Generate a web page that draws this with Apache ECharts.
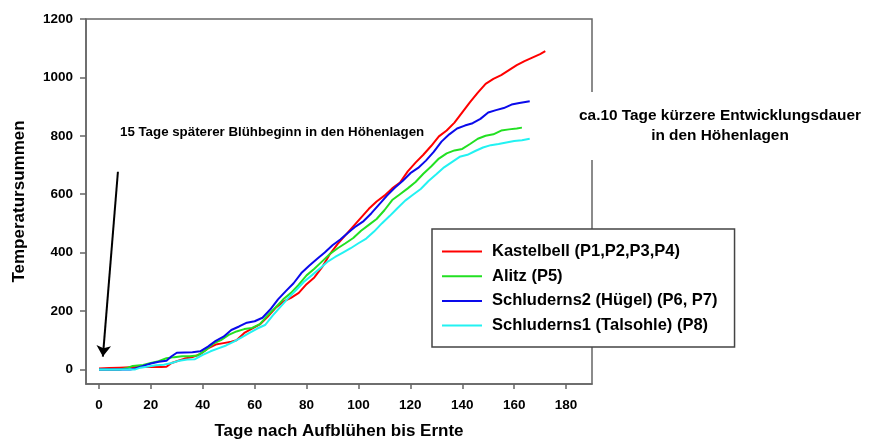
<!DOCTYPE html>
<html>
<head>
<meta charset="utf-8">
<title>Temperatursummen</title>
<script src="https://cdn.jsdelivr.net/npm/echarts@6.0.0/dist/echarts.min.js"></script>
<style>
    body { margin: 0; background: #fff; }
    #lineChart { width: 869px; height: 445px; }
</style>
</head>
<body>
<div id="lineChart"></div>
<script>
// values: days after flowering -> temperature sums
var kastelbellDays = [0,4,8,12,16,20,24,26,28,30,33,36,39,42,45,48,51,53,56,59,62,65,68,71,74,77,80,83,86,89,92,95,98,101,104,107,110,113,116,119,122,125,128,131,134,137,140,143,146,149,152,155,158,161,164,167,170,172];
var kastelbellVals = [3,5,6,7,8,8,8,9,22,28,37,42,52,72,85,90,95,100,125,140,154,180,210,232,245,262,292,315,350,395,430,460,490,520,550,575,595,620,640,678,708,735,765,798,818,845,880,915,948,978,995,1008,1025,1042,1056,1068,1080,1090];

var alitzDays = [0,4,8,11,13,17,20,23,26,29,32,35,38,41,44,47,50,53,56,59,62,65,68,71,74,77,80,83,86,89,92,95,98,101,104,107,110,113,116,119,122,125,128,131,134,137,140,143,146,149,152,155,158,161,163];
var alitzVals = [0,0,0,5,12,15,22,28,38,42,45,45,48,65,88,100,118,130,138,142,155,185,212,240,262,290,322,345,370,395,415,432,450,475,495,515,545,580,600,620,642,670,695,722,740,750,755,772,790,800,805,818,822,825,828];

var schluderns2Days = [0,4,8,12,14,17,20,23,26,28,30,33,36,39,42,45,48,51,54,57,60,63,66,69,72,75,78,81,84,87,90,93,96,99,102,105,108,111,114,117,120,123,126,129,132,135,138,141,144,147,150,153,156,159,162,166];
var schluderns2Vals = [0,0,0,0,3,12,20,26,30,45,57,58,59,62,78,98,112,135,147,160,165,177,205,240,268,295,330,355,378,400,425,445,468,490,508,535,565,595,622,645,672,690,715,745,780,805,825,835,843,858,880,888,895,907,912,918];

var schluderns1Days = [0,4,8,12,14,16,19,22,25,28,31,34,37,40,43,46,49,52,55,58,61,64,67,70,73,76,79,82,85,88,91,94,97,100,103,106,109,112,115,118,121,124,127,130,133,136,139,142,145,148,151,154,157,160,163,166];
var schluderns1Vals = [0,0,0,0,0,6,10,14,16,22,30,34,35,50,62,72,82,95,110,125,140,152,185,215,245,272,300,322,345,368,385,400,415,432,448,472,500,525,552,578,598,618,645,668,692,710,728,735,748,760,768,772,777,782,785,790];

var seriesNames = ['Kastelbell (P1,P2,P3,P4)', 'Alitz (P5)', 'Schluderns2 (Hügel) (P6, P7)', 'Schluderns1 (Talsohle) (P8)'];
var seriesColors = ['#ff0000', '#22e022', '#0a0aeb', '#22f2f2'];

var xTicks = [0, 20, 40, 60, 80, 100, 120, 140, 160, 180];
var yTicks = [0, 200, 400, 600, 800, 1000, 1200];

// arrow: from the note down to the start of the curves
var arrowFrom = [7.3, 677];
var arrowTo = [1.5, 44];

var FONT = 'Arial, "Liberation Sans", sans-serif';

function zipPoints(days, vals) {
    var out = [];
    for (var i = 0; i < days.length; i++) {
        out.push([days[i], vals[i]]);
    }
    return out;
}

var allDays = [kastelbellDays, alitzDays, schluderns2Days, schluderns1Days];
var allVals = [kastelbellVals, alitzVals, schluderns2Vals, schluderns1Vals];

var series = [];
seriesNames.forEach(function (name, i) {
    series.push({
        name: name,
        type: 'line',
        data: zipPoints(allDays[i], allVals[i]),
        symbol: 'none',
        smooth: false,
        lineStyle: { color: seriesColors[i], width: 2 },
        itemStyle: { color: seriesColors[i] },
        z: 3
    });
});

// the arrow sits on the first series as a markLine
series[0].markLine = {
    silent: true,
    animation: false,
    symbol: ['none', 'arrow'],
    symbolSize: 11,
    label: { show: false },
    lineStyle: { color: '#000', width: 2, type: 'solid' },
    data: [[{ coord: arrowFrom }, { coord: arrowTo }]]
};

var dom = document.getElementById('lineChart');
var lineChart = echarts.init(dom);

var option = {
    animation: false,
    backgroundColor: '#fff',
    textStyle: { fontFamily: FONT },
    grid: {
        left: 86,
        right: 277,
        top: 19,
        bottom: 60,
        show: true,
        borderColor: '#666',
        borderWidth: 1.5
    },
    legend: {
        orient: 'vertical',
        left: 432,
        top: 229,
        itemWidth: 40,
        itemHeight: 14,
        itemGap: 7.7,
        padding: [14, 17, 13, 9],
        borderColor: '#444',
        borderWidth: 1.5,
        backgroundColor: '#fff',
        // only the line in the legend, no dot
        itemStyle: { color: 'rgba(0,0,0,0)', borderWidth: 0, opacity: 0 },
        lineStyle: { width: 2 },
        textStyle: {
            fontFamily: FONT,
            fontSize: 16.5,
            fontWeight: 'bold',
            color: '#000',
            lineHeight: 14,
            padding: [0, 0, 0, 5]
        },
        data: seriesNames
    },
    xAxis: {
        type: 'value',
        min: -5,
        max: 190,
        name: 'Tage nach Aufblühen bis Ernte',
        nameLocation: 'middle',
        nameGap: 39,
        nameTextStyle: { fontFamily: FONT, fontSize: 17, fontWeight: 'bold', color: '#000' },
        splitLine: { show: false },
        axisLine: { show: true, onZero: false, lineStyle: { color: '#666', width: 1.5 } },
        axisTick: { show: true, length: 5, customValues: xTicks, lineStyle: { color: '#666', width: 1.5 } },
        axisLabel: {
            customValues: xTicks,
            margin: 14,
            fontFamily: FONT,
            fontSize: 13.5,
            fontWeight: 'bold',
            color: '#000',
            formatter: function (v) { return String(v); }
        }
    },
    yAxis: {
        type: 'value',
        min: -50,
        max: 1200,
        name: 'Temperatursummen',
        nameLocation: 'middle',
        nameRotate: 90,
        nameGap: 58,
        nameTextStyle: { fontFamily: FONT, fontSize: 17, fontWeight: 'bold', color: '#000' },
        splitLine: { show: false },
        axisLine: { show: true, onZero: false, lineStyle: { color: '#666', width: 1.5 } },
        axisTick: { show: true, length: 6, customValues: yTicks, lineStyle: { color: '#666', width: 1.5 } },
        axisLabel: {
            customValues: yTicks,
            margin: 13,
            fontFamily: FONT,
            fontSize: 13.5,
            fontWeight: 'bold',
            color: '#000',
            formatter: function (v) { return String(v); }
        }
    },
    graphic: [
        {
            type: 'text',
            x: 120,
            y: 132,
            z: 50,
            style: {
                text: '15 Tage späterer Blühbeginn in den Höhenlagen',
                font: 'bold 13.3px ' + FONT,
                fill: '#000',
                align: 'left',
                verticalAlign: 'middle'
            }
        },
        {
            type: 'text',
            x: 720,
            y: 126,
            z: 100,
            style: {
                text: 'ca.10 Tage kürzere Entwicklungsdauer\nin den Höhenlagen',
                font: 'bold 15.4px ' + FONT,
                fill: '#000',
                align: 'center',
                verticalAlign: 'middle',
                lineHeight: 20,
                backgroundColor: '#fff',
                padding: [14, 12, 14, 12]
            }
        }
    ],
    series: series
};

if (option && typeof option === "object") {
    lineChart.setOption(option, false);
}

window.onresize = function() {
    if (lineChart) {
        lineChart.resize();
    }
};
</script>
</body>
</html>
